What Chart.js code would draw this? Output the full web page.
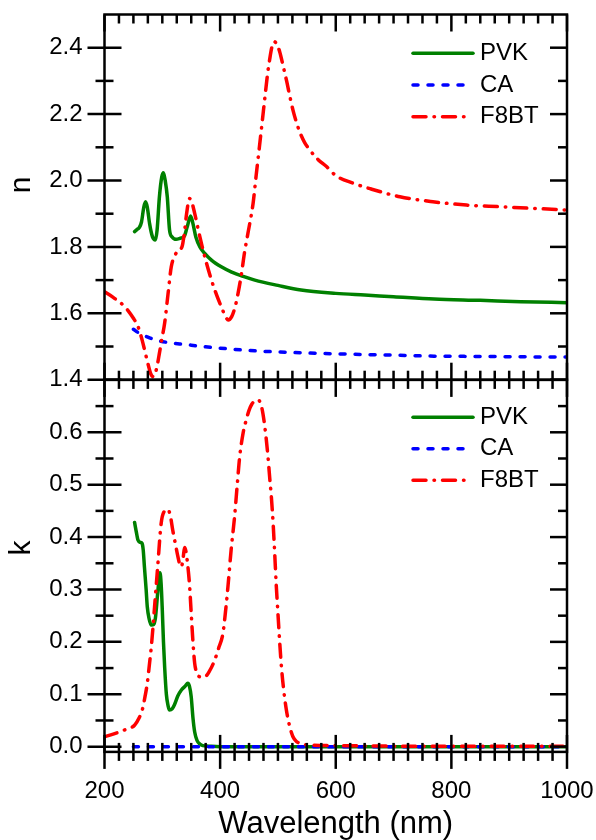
<!DOCTYPE html>
<html>
<head>
<meta charset="utf-8">
<script src="https://cdn.jsdelivr.net/npm/chart.js@4.4.1/dist/chart.umd.min.js"></script>
<style>
  html, body { margin: 0; padding: 0; background: #fff; }
  #wrap { position: relative; width: 596px; height: 840px; }
  #wrap canvas { position: absolute; left: 0; top: 0; }
</style>
</head>
<body>
<div id="wrap">
  <canvas id="nChart" width="596" height="840"></canvas>
  <canvas id="kChart" width="596" height="840"></canvas>
</div>
<script>
// ---- data: refractive index n ----
const PVK_N_WL = [252,256,260,264,268,271,274,278,283,288,291,295,299,302,305,308.6,312.5,317,324,331,338,343,349,353,358,365,373,385,402,420,440,460,500,540,600,650,700,770,850,920,1000];
const PVK_N    = [1.846,1.852,1.858,1.875,1.920,1.936,1.920,1.870,1.830,1.821,1.851,1.951,2.010,2.023,2.000,1.951,1.851,1.830,1.823,1.826,1.832,1.860,1.893,1.870,1.830,1.800,1.781,1.760,1.740,1.724,1.711,1.700,1.684,1.670,1.660,1.655,1.650,1.643,1.639,1.635,1.632];

const CA_N_WL = [250,260,275,290,310,340,370,400,460,540,620,700,770,850,920,1000];
const CA_N    = [1.552,1.540,1.528,1.519,1.512,1.506,1.500,1.495,1.487,1.481,1.477,1.474,1.471,1.470,1.469,1.468];

const F8BT_N_WL = [200,215,235,250,258,265,270,275,280,284,288,292,295,300,304,310,315.5,322,328,334,338,342,347,351,356,365,375,385,395,402,408,414,420,426,431,437,442,448,457,462,468,473,477,482,486,490,494,498,503,509,515,521,526,532,538,546,555,570,584,600,630,660,711,768,826,884,942,1000];
const F8BT_N    = [1.665,1.648,1.620,1.585,1.560,1.520,1.485,1.449,1.418,1.409,1.420,1.450,1.480,1.530,1.570,1.660,1.740,1.775,1.790,1.800,1.840,1.900,1.946,1.935,1.901,1.830,1.760,1.700,1.650,1.620,1.595,1.580,1.590,1.620,1.660,1.720,1.781,1.840,1.931,2.010,2.102,2.180,2.243,2.320,2.368,2.405,2.418,2.410,2.388,2.345,2.300,2.250,2.212,2.175,2.145,2.115,2.092,2.062,2.042,2.015,1.992,1.975,1.951,1.936,1.926,1.921,1.916,1.911];

// ---- data: extinction coefficient k ----
const PVK_K_WL = [252,255,258,262,265,267,269,272,274,277,281,285,288,292,296,298,300,302,304,307,310,312.5,317,321,327,333,340,344,347,350,353,356,360,365,370,380,400,500,600,700,800,900,1000];
const PVK_K    = [0.428,0.410,0.394,0.390,0.388,0.375,0.344,0.300,0.267,0.245,0.232,0.233,0.245,0.293,0.332,0.310,0.260,0.200,0.153,0.100,0.078,0.070,0.072,0.080,0.097,0.108,0.116,0.121,0.115,0.095,0.055,0.028,0.012,0.005,0.002,0.001,0,0,0,0,0,0,0];

const CA_K_WL = [250,300,400,500,600,700,800,900,1000];
const CA_K    = [0,0,0,0,0,0,0,0,0];

const F8BT_K_WL = [200,215,235,252,260,266,270,274,278,281,284,286.6,292,298,304,309.6,314,318,323,327,331,333,336,338.5,341,343,347,350,353,356,360,364.5,373,382,390.5,398,404.8,410,413.5,419,425,430,433.8,440,445,450,455,460,465.5,470,474,479,482.8,486,488.6,492,494.4,497,500,503,506,510,514.6,520,526,532,537.7,555,600,700,800,900,1000];
const F8BT_K    = [0.019,0.024,0.032,0.041,0.055,0.073,0.095,0.121,0.160,0.191,0.230,0.267,0.3435,0.426,0.450,0.453,0.440,0.4135,0.385,0.3626,0.345,0.3435,0.360,0.380,0.372,0.356,0.310,0.2546,0.200,0.159,0.140,0.1336,0.133,0.145,0.165,0.190,0.216,0.265,0.305,0.375,0.439,0.505,0.553,0.600,0.623,0.642,0.654,0.660,0.662,0.655,0.636,0.595,0.553,0.510,0.477,0.420,0.369,0.310,0.2546,0.200,0.153,0.108,0.070,0.040,0.019,0.010,0.0065,0.003,0.002,0.001,0.001,0.001,0.001];

// ---- tick labels ----
const WL_TICKS = [200, 400, 600, 800, 1000];
const N_TICKS  = [1.4, 1.6, 1.8, 2.0, 2.2, 2.4];
const K_TICKS  = [0.0, 0.1, 0.2, 0.3, 0.4, 0.5, 0.6];

// ---- styles ----
const FONT_FAMILY = '"Liberation Sans", Arial, sans-serif';
const LINE_WIDTH = 3.5;
const STYLE = {
  PVK:  { color: '#008000', dash: [],              legendEnd: 473 },
  CA:   { color: '#0000ff', dash: [5, 10],         legendEnd: 472 },
  F8BT: { color: '#ff0000', dash: [13, 8, 0.5, 8], legendEnd: 467 }
};

const toPoints = (xs, ys) => xs.map((x, i) => ({ x, y: ys[i] }));

function dataset(label, xs, ys, order) {
  const s = STYLE[label];
  return {
    label,
    data: toPoints(xs, ys),
    borderColor: s.color,
    borderWidth: LINE_WIDTH,
    borderDash: s.dash,
    borderCapStyle: 'round',
    borderJoinStyle: 'round',
    cubicInterpolationMode: 'monotone',
    pointRadius: 0,
    fill: false,
    order,
    legendEnd: s.legendEnd
  };
}

// frame, crossing tick marks, rotated axis title and legend
const panelDecor = {
  id: 'panelDecor',
  afterDatasetsDraw(chart, args, o) {
    const { ctx, chartArea: a } = chart;
    const xs = chart.scales.x, ys = chart.scales.y;
    const seg = (x1, y1, x2, y2) => { ctx.beginPath(); ctx.moveTo(x1, y1); ctx.lineTo(x2, y2); ctx.stroke(); };
    ctx.save();
    ctx.strokeStyle = '#000';
    ctx.lineWidth = 2.5;
    ctx.lineCap = 'butt';

    // wavelength ticks every 25 nm, long ones every 200 nm
    for (let v = xs.min; v <= xs.max + 1e-6; v += 25) {
      const px = xs.getPixelForValue(v);
      const len = (Math.round(v) % 200 === 0) ? 17 : 9;
      seg(px, a.top, px, a.top + len);
      seg(px, a.bottom - len, px, a.bottom + (o.crossBottom ? len : 0));
    }
    // value ticks, long ones on labelled values
    const count = Math.round((o.yEnd - o.yStart) / o.yStep);
    for (let i = 0; i <= count; i++) {
      const py = ys.getPixelForValue(o.yStart + i * o.yStep);
      const len = i % 2 === 0 ? 17 : 9;
      seg(a.left - len, py, a.left + len, py);
      seg(a.right - len, py, a.right, py);
    }
    ctx.strokeRect(a.left, a.top, a.right - a.left, a.bottom - a.top);

    // rotated axis title
    ctx.fillStyle = '#000';
    ctx.font = '30px ' + FONT_FAMILY;
    ctx.textAlign = 'center';
    ctx.textBaseline = 'middle';
    ctx.save();
    ctx.translate(o.titleX, o.titleY);
    ctx.rotate(-Math.PI / 2);
    ctx.fillText(o.title, 0, 0);
    ctx.restore();

    // legend
    ctx.font = '24px ' + FONT_FAMILY;
    ctx.textAlign = 'left';
    chart.data.datasets.forEach((ds, i) => {
      const y = o.legendY + i * o.legendGap;
      ctx.save();
      ctx.strokeStyle = ds.borderColor;
      ctx.lineWidth = ds.borderWidth;
      ctx.lineCap = 'round';
      ctx.setLineDash(ds.borderDash);
      seg(o.legendX, y, ds.legendEnd, y);
      ctx.restore();
      ctx.fillText(ds.label, o.legendTextX, y);
    });
    ctx.restore();
  }
};

function clearScalePadding(s) {
  s.paddingLeft = 0; s.paddingRight = 0; s.paddingTop = 0; s.paddingBottom = 0;
}

function valueAxis(min, max, ticks) {
  return {
    type: 'linear',
    min, max,
    grid: { display: false, drawTicks: false },
    border: { display: false },
    afterBuildTicks: s => { s.ticks = ticks.map(v => ({ value: v })); },
    afterFit: s => { s.width = 100.5; clearScalePadding(s); },
    ticks: {
      padding: 22,
      color: '#000',
      font: { family: FONT_FAMILY, size: 24 },
      callback: v => Number(v).toFixed(1)
    }
  };
}

Chart.defaults.font.family = FONT_FAMILY;
Chart.defaults.color = '#000';

new Chart(document.getElementById('nChart'), {
  type: 'line',
  data: {
    datasets: [
      dataset('PVK', PVK_N_WL, PVK_N, 3),
      dataset('CA', CA_N_WL, CA_N, 2),
      dataset('F8BT', F8BT_N_WL, F8BT_N, 1)
    ]
  },
  options: {
    responsive: false,
    animation: false,
    layout: { padding: { left: 4, right: 29, top: 14.5, bottom: 460.3 } },
    scales: {
      x: { type: 'linear', min: 200, max: 1000, display: false },
      y: valueAxis(1.4, 2.5, N_TICKS)
    },
    plugins: {
      legend: { display: false },
      tooltip: { enabled: false },
      panelDecor: {
        yStart: 1.4, yEnd: 2.4, yStep: 0.1, crossBottom: false,
        title: 'n', titleX: 22, titleY: 185,
        legendX: 413, legendTextX: 480, legendY: 53.3, legendGap: 31.7
      }
    }
  },
  plugins: [panelDecor]
});

new Chart(document.getElementById('kChart'), {
  type: 'line',
  data: {
    datasets: [
      dataset('PVK', PVK_K_WL, PVK_K, 3),
      dataset('CA', CA_K_WL, CA_K, 2),
      dataset('F8BT', F8BT_K_WL, F8BT_K, 1)
    ]
  },
  options: {
    responsive: false,
    animation: false,
    layout: { padding: { left: 4, right: 29, top: 379.9, bottom: 0 } },
    scales: {
      x: {
        type: 'linear', min: 200, max: 1000,
        grid: { display: false, drawTicks: false },
        border: { display: false },
        afterBuildTicks: s => { s.ticks = WL_TICKS.map(v => ({ value: v })); },
        afterFit: s => { s.height = 88.1; clearScalePadding(s); },
        ticks: {
          padding: 24.7,
          maxRotation: 0,
          autoSkip: false,
          color: '#000',
          font: { family: FONT_FAMILY, size: 24 },
          callback: v => String(v)
        },
        title: {
          display: true,
          text: 'Wavelength (nm)',
          color: '#000',
          padding: { top: 0, bottom: 0 },
          font: { family: FONT_FAMILY, size: 31, lineHeight: 1 }
        }
      },
      y: valueAxis(-0.01, 0.7, K_TICKS)
    },
    plugins: {
      legend: { display: false },
      tooltip: { enabled: false },
      panelDecor: {
        yStart: 0, yEnd: 0.65, yStep: 0.05, crossBottom: true,
        title: 'k', titleX: 22, titleY: 548,
        legendX: 413, legendTextX: 480, legendY: 417.3, legendGap: 31.5
      }
    }
  },
  plugins: [panelDecor]
});
</script>
</body>
</html>
